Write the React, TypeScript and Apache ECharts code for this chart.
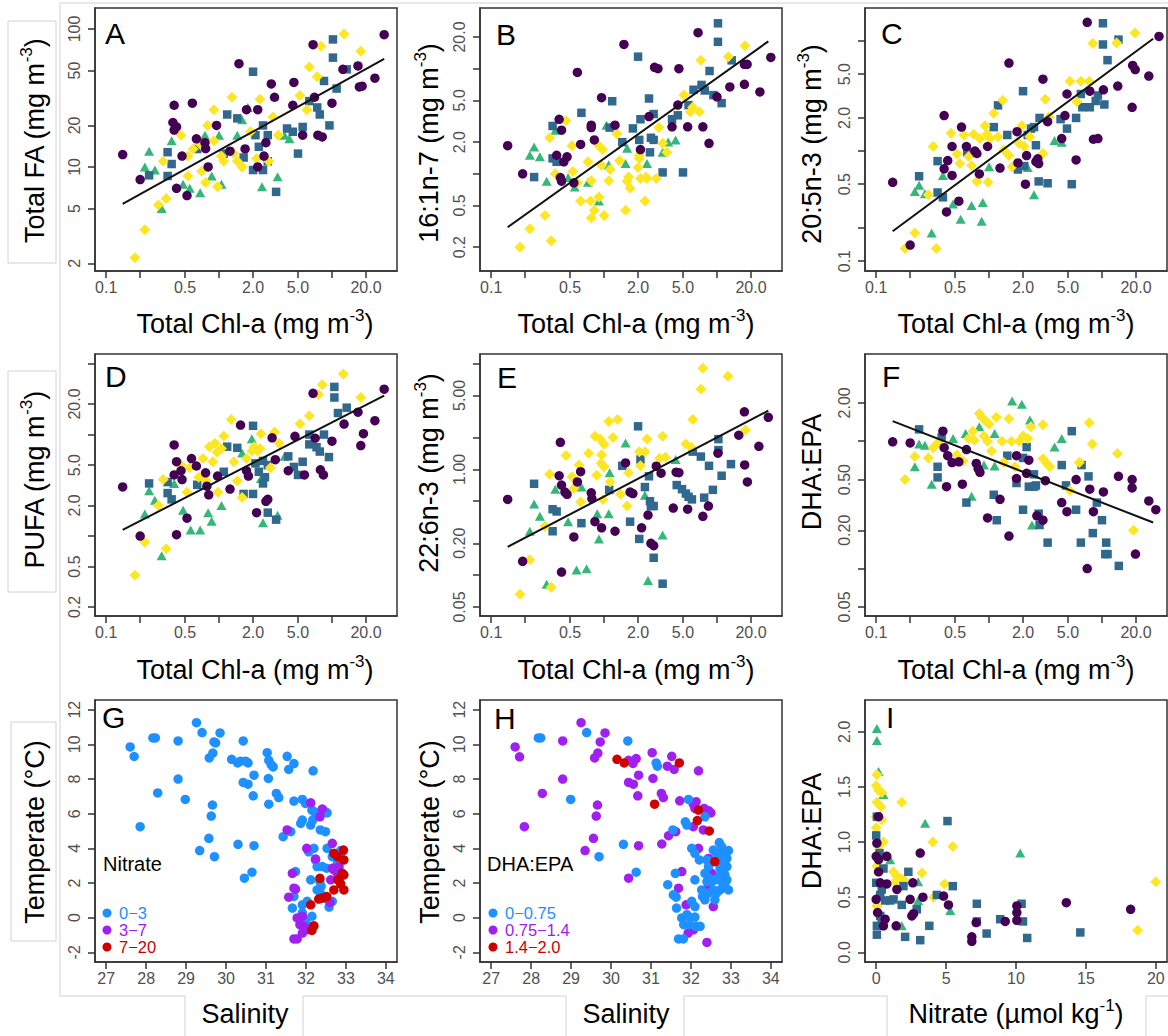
import React, { useEffect, useRef } from 'react';
import * as echarts from 'echarts';

type Pt = [number, number];

const FONT = '"Liberation Sans", Arial, Helvetica, sans-serif';

// ---------- Shared tick definitions ----------
const CHL_TICKS = [0.1, 0.2, 0.5, 1, 2, 5, 10, 20];
const CHL_LABELS = ['0.1', '0.5', '2.0', '5.0', '20.0'];

// ---------- Panel A : Total FA ----------
const A_purple: Pt[] = [[0.14,12.3],[0.2,8.1],[0.4,28],[0.39,21],[0.4,18.5],[0.42,19.5],[0.47,12],[0.42,7],[0.52,6.2],[0.58,29],[0.63,16],[0.75,15],[0.76,13.6],[0.8,10],[0.95,20],[1.25,13],[1.5,56],[1.75,26],[1.7,13.5],[2.2,26],[2.2,10],[2.6,15],[2.5,12],[2.9,40],[3.1,32],[4.6,41],[4.5,28],[5.5,17],[6.8,77],[7,32],[7.5,17],[8.2,16.5],[10,29],[12.5,51],[17,54],[17.5,38],[18.5,38.5],[24,44],[29,91]];
const A_teal: Pt[] = [[0.24,8.7],[0.35,12.8],[0.38,10.5],[0.35,8.6],[0.64,13.5],[1.18,24],[1.45,22.5],[1.1,12.5],[1.65,11.7],[2.0,49],[2.1,17],[2.25,14],[2.0,9.5],[2.45,9.5],[2.45,20],[2.7,17],[2.7,11],[3.2,6.6],[4,19],[4.5,18],[5.5,19.5],[5,12.5],[6.3,30],[7.4,27],[7.8,24],[8.5,42],[9.5,20],[10.2,84],[10.2,62],[11,37],[13.5,51]];
const A_green: Pt[] = [[0.22,10],[0.24,13],[0.27,9.5],[0.31,5],[0.38,15.5],[0.48,7.5],[0.55,7],[0.68,6.5],[0.75,17],[0.86,8.6],[1.05,7.5],[1.0,17],[1.45,17],[1.6,22],[1.8,27],[2.4,7.2],[3.3,8.5],[3.8,17],[4.2,16]];
const A_yellow: Pt[] = [[0.18,2.2],[0.22,3.5],[0.29,5.3],[0.34,5.9],[0.32,11],[0.46,17],[0.53,8.6],[0.53,12],[0.59,13.5],[0.69,14.5],[0.7,9.3],[0.76,7.7],[0.79,20],[0.9,26],[0.9,15.5],[0.97,7.2],[1.05,12],[1.1,11],[1.3,32],[1.35,12.5],[1.45,11],[1.6,10],[1.9,18],[2.3,31],[2.15,11.5],[2.75,11],[3.0,23],[3.35,17],[5.2,33],[6,26],[6.3,53],[7.4,45],[8,75],[12.8,92],[18,69]];
const A_fit: Pt[] = [[0.14,5.4],[29,60.7]];
const A_YTICKS = [2, 5, 10, 20, 50, 100];
const A_YLABELS = ['2', '5', '10', '20', '50', '100'];

// ---------- Panel B : 16:1n-7 ----------
const B_purple: Pt[] = [[0.14,1.85],[0.19,1.0],[0.4,3.3],[0.42,2.6],[0.38,1.5],[0.47,1.45],[0.44,1.3],[0.41,0.92],[0.42,0.85],[0.54,0.82],[0.58,9.2],[0.62,1.9],[0.77,2.9],[0.77,2.75],[0.82,2.1],[0.95,5.3],[1.25,2.9],[1.5,17],[2.1,1.7],[2.5,3.5],[2.8,10.3],[3.0,10],[4.0,2.8],[4.5,4.5],[4.6,10],[5.5,2.8],[6.8,22],[7.5,2.8],[8.5,1.95],[10,5.4],[13,6.7],[17.5,7.1],[18.5,11],[17.5,11],[24,6],[30,12.8]];
const B_teal: Pt[] = [[0.24,0.93],[0.35,2.85],[0.35,1.4],[0.38,1.3],[0.63,3.8],[1.12,2.75],[1.18,4.9],[1.45,2.0],[1.8,2.7],[2.0,13],[2.1,3.3],[2.05,2.1],[2.5,5.2],[2.75,3.7],[2.6,2.2],[2.75,2.1],[2.55,1.6],[3.3,1.03],[4,3.3],[4.5,3.6],[5,1.03],[5.6,4.5],[6.2,6.3],[7.3,7.0],[7.8,6.2],[8.6,9.5],[9.3,5.6],[11,4.7],[10.2,27],[10.2,18],[13.5,12]];
const B_green: Pt[] = [[0.24,1.8],[0.22,1.5],[0.27,1.45],[0.31,0.85],[0.37,2.6],[0.48,0.92],[0.55,0.75],[0.72,0.83],[0.9,0.55],[1.05,2.9],[1.1,1.22],[1.6,1.75],[1.55,1.25],[2.4,1.25],[3.3,1.6],[3.7,2.0],[4.3,2.1]];
const B_yellow: Pt[] = [[0.18,0.2],[0.22,0.3],[0.34,0.23],[0.3,0.4],[0.33,2.2],[0.46,3.2],[0.52,1.85],[0.37,1.0],[0.53,1.05],[0.58,0.82],[0.62,0.55],[0.76,0.55],[0.77,0.86],[0.72,1.3],[0.77,0.38],[0.82,0.45],[0.9,0.6],[0.9,1.85],[0.97,1.7],[0.95,1.2],[1.13,1.1],[1.1,0.86],[1.0,0.4],[1.3,2.4],[1.37,1.33],[1.55,0.45],[1.65,0.93],[1.6,0.85],[1.7,0.73],[2.05,1.5],[2.05,1.4],[2.0,1.15],[2.1,0.9],[2.35,0.93],[2.3,0.55],[2.4,0.9],[2.9,0.9],[3.05,2.75],[3.3,1.95],[3.6,1.6],[5.1,5.6],[5.8,3.9],[6.1,4.3],[7.0,3.9],[7.2,12],[12.6,13],[17.7,16.5]];
const B_fit: Pt[] = [[0.14,0.31],[28.5,18.2]];
const B_YTICKS = [0.2, 0.5, 1, 2, 5, 10, 20];
const B_YLABELS = ['0.2', '0.5', '2.0', '5.0', '20.0'];

// ---------- Panel C : 20:5n-3 ----------
const C_purple: Pt[] = [[0.14,0.52],[0.2,0.14],[0.4,2.1],[0.47,1.1],[0.4,0.69],[0.43,0.82],[0.47,0.6],[0.42,0.28],[0.54,0.35],[0.57,1.65],[0.63,1.1],[0.78,0.95],[0.75,1.0],[0.82,0.62],[0.97,1.1],[1.25,0.7],[1.5,6.3],[1.8,0.78],[1.77,1.5],[2.15,0.91],[2.1,0.5],[2.6,0.8],[2.7,0.85],[2.75,0.77],[3.0,4.5],[3.3,1.85],[4.4,1.3],[4.9,3.3],[4.7,2.1],[5.9,0.83],[7.4,14.8],[7.8,3.5],[8.4,1.28],[9.2,1.3],[10.3,3.6],[13.8,3.9],[18.7,6.0],[19.7,5.5],[18.5,2.5],[26,4.8],[32,11]];
const C_teal: Pt[] = [[0.24,0.59],[0.35,0.81],[0.35,0.42],[0.39,0.38],[0.64,0.97],[1.1,1.65],[1.2,2.6],[1.45,1.4],[1.8,0.68],[2.05,0.73],[2.0,3.5],[2.2,1.4],[2.35,1.6],[2.5,1.65],[2.6,1.13],[2.75,0.53],[3.3,0.51],[2.8,2.0],[4.3,1.95],[4.9,1.6],[5.4,0.5],[5.9,2.0],[6.5,3.3],[6.7,2.5],[7.8,2.5],[8.8,2.85],[9.2,3.2],[10.5,2.65],[10.2,14.5],[10.2,9.3],[11.2,6.7],[14,10.3]];
const C_green: Pt[] = [[0.22,0.43],[0.24,0.49],[0.27,0.41],[0.31,0.18],[0.39,0.6],[0.48,0.33],[0.56,0.24],[0.7,0.32],[0.86,0.23],[0.88,0.34],[1.0,0.72],[2.2,0.71],[2.5,0.4],[3.8,1.25],[4.4,1.2]];
const C_yellow: Pt[] = [[0.18,0.13],[0.22,0.18],[0.34,0.13],[0.29,0.4],[0.32,1.1],[0.46,1.45],[0.52,0.94],[0.55,0.77],[0.6,1.4],[0.66,0.89],[0.73,1.42],[0.7,0.74],[0.78,0.53],[0.83,1.3],[0.92,1.7],[0.96,1.42],[1.02,1.3],[0.98,0.52],[1.1,2.2],[1.2,1.35],[1.32,2.9],[1.35,1.02],[1.5,0.91],[1.6,0.72],[1.85,1.17],[1.95,1.7],[2.05,1.1],[2.3,1.35],[3.0,0.95],[3.15,2.95],[3.4,2.05],[5.2,4.3],[6.5,4.3],[7.7,4.3],[6,2.8],[8.3,9.5],[13.5,9.6],[19.6,11.8]];
const C_fit: Pt[] = [[0.14,0.187],[28.4,10.5]];
const C_YTICKS = [0.1, 0.2, 0.5, 1, 2, 5, 10];
const C_YLABELS = ['0.1', '0.5', '2.0', '5.0'];

// ---------- Panel D : PUFA ----------
const D_purple: Pt[] = [[0.14,3.05],[0.2,1.0],[0.4,7.9],[0.42,5.4],[0.4,4.0],[0.47,3.6],[0.46,4.4],[0.42,1.03],[0.52,1.5],[0.57,5.8],[0.63,4.9],[0.76,4.2],[0.78,3.1],[0.81,2.55],[0.97,3.9],[1.25,2.9],[1.55,12.4],[1.75,4.4],[1.82,3.9],[2.15,1.7],[2.6,2.2],[2.7,2.3],[2.95,9.3],[3.15,5.65],[4.1,4.4],[4.7,9.6],[5.7,4.0],[6.8,25.5],[7.1,9.2],[7.9,4.5],[8.4,4.0],[10,8.6],[12.8,12.7],[17,16.6],[18,7.8],[19,10.2],[24,13.7],[29,28]];
const D_teal: Pt[] = [[0.24,3.3],[0.35,3.4],[0.35,2.65],[0.38,2.3],[0.64,3.2],[1.18,7.6],[1.45,7.4],[1.1,4.3],[2.0,12.2],[2.1,5.2],[2.25,4.3],[1.65,2.6],[2.0,2.6],[2.45,5.5],[2.7,5.0],[2.55,3.8],[2.45,3.3],[2.7,1.7],[3.2,1.45],[4.1,6.1],[4.6,4.8],[5.0,4.0],[5.5,5.4],[6.3,10],[6.3,8],[7.3,7.5],[7.8,6.8],[8.5,10],[9.4,6.0],[10.5,29.5],[10.5,23.2],[11.3,16.3],[13.5,18.4]];
const D_green: Pt[] = [[0.22,1.65],[0.24,2.8],[0.27,2.25],[0.31,0.64],[0.4,3.3],[0.48,1.8],[0.56,1.15],[0.68,1.15],[0.8,1.7],[0.86,1.4],[1.05,2.0],[1.6,6.6],[1.95,9.1],[2.35,3.7],[2.45,1.35],[3.3,1.6],[3.8,6.1]];
const D_yellow: Pt[] = [[0.18,0.41],[0.22,0.87],[0.34,0.75],[0.32,3.6],[0.29,2.0],[0.46,5.0],[0.52,2.7],[0.55,4.7],[0.66,3.8],[0.72,5.8],[0.73,4.0],[0.77,3.5],[0.82,7.6],[0.88,5.4],[0.92,8.2],[0.96,6.7],[0.98,2.7],[1.05,7.3],[1.1,9.7],[1.28,14.1],[1.35,5.4],[1.45,3.5],[1.6,2.4],[1.75,5.8],[1.95,6.9],[2.05,7.6],[2.2,6.9],[2.3,7.3],[2.35,10.2],[2.85,4.7],[3.1,10.6],[3.4,8.2],[5.2,12.8],[6.3,15.3],[7.6,24.8],[8.2,31],[12.6,39.5],[18,23.2]];
const D_fit: Pt[] = [[0.14,1.15],[29,24.2]];
const D_YTICKS = [0.2, 0.5, 1, 2, 5, 10, 20, 50];
const D_YLABELS = ['0.2', '0.5', '2.0', '5.0', '20.0'];

// ---------- Panel E : 22:6n-3 ----------
const E_purple: Pt[] = [[0.14,0.52],[0.19,0.135],[0.42,0.107],[0.41,1.8],[0.4,0.87],[0.42,0.71],[0.45,0.61],[0.47,0.58],[0.54,0.23],[0.58,0.76],[0.62,0.95],[0.77,0.6],[0.78,0.53],[0.83,0.32],[0.95,0.28],[1.25,0.26],[1.55,1.15],[1.7,0.61],[1.8,0.59],[2.15,0.28],[2.45,0.37],[2.6,0.2],[2.75,0.19],[2.9,1.07],[3.2,0.92],[4.1,0.43],[4.35,0.94],[4.6,0.93],[5.5,0.42],[7.5,0.36],[8.4,0.45],[10.2,1.42],[15.6,2.1],[17.6,1.1],[18.6,0.76],[17.5,3.5],[23.5,1.65],[28.5,3.1]];
const E_teal: Pt[] = [[0.24,0.73],[0.35,0.42],[0.38,0.4],[0.35,0.26],[0.63,0.31],[1.11,0.64],[1.45,1.08],[2.0,2.55],[2.1,1.24],[1.7,0.32],[2.05,0.22],[2.3,0.68],[2.5,0.86],[2.55,0.5],[2.75,0.45],[2.6,0.45],[2.75,0.146],[3.3,0.083],[4.4,0.71],[4.9,0.65],[5.3,0.59],[5.6,0.55],[6.0,0.52],[6.1,1.47],[7.2,1.32],[8.5,1.08],[7.7,0.54],[9.2,0.64],[10.3,1.52],[10.3,1.93],[11,0.87],[13.3,1.12]];
const E_green: Pt[] = [[0.22,0.26],[0.24,0.47],[0.27,0.36],[0.31,0.082],[0.37,0.65],[0.48,0.32],[0.57,0.112],[0.7,0.115],[0.63,0.68],[0.87,0.38],[0.9,0.22],[1.1,0.38],[1.12,0.93],[1.55,1.77],[2.3,0.57],[2.45,0.089],[3.3,0.24],[4.3,1.24]];
const E_yellow: Pt[] = [[0.18,0.066],[0.22,0.14],[0.34,0.077],[0.3,0.29],[0.33,0.9],[0.46,1.35],[0.52,0.85],[0.54,0.66],[0.62,0.49],[0.6,1.1],[0.73,1.42],[0.83,2.05],[0.86,0.88],[0.92,1.93],[0.95,1.37],[0.94,1.14],[1.0,1.73],[1.0,1.06],[1.1,2.83],[1.2,2.0],[1.32,2.95],[1.13,0.76],[0.98,0.52],[1.4,0.58],[1.65,0.93],[1.6,0.45],[2.05,1.47],[2.3,1.47],[2.4,1.93],[2.1,1.08],[3.3,2.05],[3.1,1.27],[3.5,1.3],[5.3,1.74],[5.9,1.62],[6.1,2.95],[7.2,5.75],[7.5,9.0],[12.5,7.6],[17.9,2.36]];
const E_fit: Pt[] = [[0.14,0.185],[28.5,3.58]];
const E_YTICKS = [0.05, 0.1, 0.2, 0.5, 1, 2, 5, 10];
const E_YLABELS = ['0.05', '0.20', '1.00', '5.00'];

// ---------- Panel F : DHA:EPA vs Chl-a ----------
const F_purple: Pt[] = [[0.14,0.99],[0.2,0.97],[0.39,1.2],[0.4,0.89],[0.43,0.77],[0.47,0.68],[0.54,0.69],[0.42,0.44],[0.58,0.46],[0.63,0.86],[0.77,0.67],[0.8,0.61],[0.83,0.57],[0.97,0.25],[1.25,0.35],[1.5,0.18],[1.75,0.77],[1.75,0.51],[2.15,0.56],[2.25,0.71],[2.65,0.26],[3.0,0.24],[3.15,0.49],[4.4,0.33],[4.9,0.28],[5.9,0.5],[7.4,0.1],[7.8,0.42],[8.4,0.28],[10.3,0.4],[14,0.53],[18.5,0.5],[18.5,0.43],[19.8,0.13],[26,0.34],[30,0.29]];
const F_teal: Pt[] = [[0.24,1.24],[0.38,1.07],[0.35,0.63],[0.35,0.52],[0.63,0.33],[1.1,0.38],[1.17,0.24],[1.45,0.77],[1.75,0.47],[2.0,0.74],[2.15,0.9],[2.0,0.29],[2.25,0.44],[2.5,0.55],[2.5,0.44],[2.6,0.45],[2.75,0.27],[2.8,0.22],[3.3,0.16],[4.4,0.65],[4.8,0.45],[5.4,1.2],[5.9,0.29],[6.5,0.16],[6.6,0.65],[7.6,0.53],[8.3,0.19],[9.0,0.33],[10,0.24],[10.9,0.16],[10.7,0.13],[11.2,0.13],[14.1,0.105]];
const F_green: Pt[] = [[0.22,0.63],[0.24,0.95],[0.27,0.93],[0.31,0.46],[0.48,1.05],[0.62,1.15],[0.7,0.37],[0.82,1.3],[0.9,0.65],[1.12,1.15],[1.12,0.64],[1.6,2.07],[1.95,1.95],[2.3,1.47],[2.4,0.22],[3.8,0.9],[4.4,1.05]];
const F_yellow: Pt[] = [[0.18,0.5],[0.22,0.76],[0.29,0.74],[0.32,0.89],[0.35,0.97],[0.52,0.78],[0.59,0.7],[0.66,1.05],[0.72,1.2],[0.74,1.02],[0.82,1.65],[0.86,1.54],[0.93,1.44],[1.0,1.36],[0.9,1.1],[0.97,1.0],[1.05,0.84],[1.16,1.54],[1.3,1.0],[1.35,0.68],[1.5,1.5],[1.58,1.0],[1.7,0.63],[1.85,1.0],[2.0,1.1],[2.2,1.05],[2.35,1.3],[3.0,0.73],[3.25,0.67],[3.45,0.63],[3.0,1.35],[5.2,0.41],[6.3,0.68],[7.7,1.4],[8.2,0.95],[13.7,0.8],[19,0.2]];
const F_fit: Pt[] = [[0.14,1.44],[28.4,0.23]];
const F_YTICKS = [0.05, 0.1, 0.2, 0.5, 1, 2];
const F_YLABELS = ['0.05', '0.20', '0.50', '2.00'];

// ---------- Panel G : T-S coloured by nitrate ----------
const G_low: Pt[] = [[27.6,9.85],[27.7,9.3],[27.85,5.25],[28.17,10.37],[28.23,10.37],[28.29,7.2],[28.8,10.2],[28.8,8.0],[28.98,6.82],[29.26,11.25],[29.4,10.68],[29.34,3.87],[29.57,4.58],[29.58,9.22],[29.67,9.5],[29.7,10.14],[29.74,10.08],[29.85,10.66],[29.63,5.86],[29.66,6.5],[29.71,3.52],[30.14,9.14],[30.29,8.93],[30.36,9.03],[30.49,9.03],[30.55,8.93],[30.43,10.2],[30.43,7.8],[30.55,7.7],[30.7,8.22],[30.68,7.03],[30.3,4.23],[30.7,4.15],[30.46,2.28],[30.65,2.62],[31.03,9.52],[31.07,9.08],[31.13,8.83],[31.18,8.7],[31.06,8.03],[31.07,6.55],[31.26,7.17],[31.32,6.93],[31.53,9.31],[31.57,8.55],[31.7,8.89],[31.7,6.73],[32.18,8.47],[31.43,4.67],[31.62,4.96],[31.91,6.82],[31.99,6.59],[32.15,6.21],[32.21,6.11],[32.49,6.11],[32.53,6.05],[31.87,5.44],[31.91,5.63],[32.12,5.34],[32.17,5.63],[32.36,5.06],[32.49,4.96],[32.2,4.0],[32.07,3.8],[32.24,3.33],[32.28,2.95],[32.41,2.95],[32.52,2.85],[32.53,4.0],[32.66,3.52],[32.79,3.14],[32.87,3.87],[32.91,3.81],[31.74,2.66],[32.12,2.18],[32.35,2.08],[32.28,1.6],[32.38,1.8],[31.7,1.22],[31.66,0.55],[31.91,0.74],[32.03,0.94],[32.15,0.08],[32.36,1.41],[32.49,1.13],[32.66,0.94],[32.58,0.61],[31.91,0.27],[31.99,-0.21],[32.12,-0.5]];
const G_mid: Pt[] = [[31.53,5.06],[32.12,6.63],[32.41,6.27],[32.35,5.82],[32.02,4.0],[32.24,3.39],[32.66,4.29],[31.66,2.56],[31.7,1.7],[31.74,1.64],[31.57,1.18],[32.62,2.18],[32.7,2.76],[32.79,2.56],[32.83,2.95],[32.87,2.37],[32.66,2.85],[32.6,0.88],[31.78,-0.02],[31.91,0.08],[31.85,-0.41],[31.95,-0.5],[31.91,-0.89],[32.02,-0.7],[31.7,-1.23],[31.78,-1.23],[31.99,-0.6]];
const G_high: Pt[] = [[32.7,3.71],[32.79,3.52],[32.94,3.9],[32.95,3.33],[32.91,2.56],[32.95,2.47],[32.8,2.18],[32.87,1.95],[32.95,1.6],[32.7,1.6],[32.35,2.27],[32.32,1.07],[32.41,1.13],[32.52,1.22],[32.12,0.74],[32.2,-0.47],[32.15,-0.74]];

// ---------- Panel H : T-S coloured by DHA:EPA ----------
const H_mid: Pt[] = [[27.6,9.85],[27.71,9.28],[27.83,5.25],[28.28,7.17],[28.79,10.2],[28.79,8.0],[29.25,11.25],[29.35,3.87],[29.56,4.58],[29.59,9.22],[29.67,9.5],[29.73,10.14],[29.85,10.66],[29.63,5.86],[29.66,6.5],[30.44,2.28],[30.44,7.8],[30.56,7.7],[30.69,8.22],[30.67,7.03],[30.69,4.15],[30.44,9.08],[30.55,8.9],[30.63,9.18],[31.03,9.52],[31.05,8.03],[31.26,7.17],[31.31,6.93],[31.27,4.25],[31.44,4.73],[31.41,8.74],[31.52,9.31],[31.58,8.55],[31.72,6.74],[31.62,4.96],[32.19,8.47],[32.06,6.55],[32.13,6.69],[32.1,6.3],[32.06,5.25],[32.33,6.3],[32.44,6.17],[32.5,6.05],[32.31,5.06],[32.19,4.0],[31.77,2.66],[31.69,1.7],[31.88,0.74],[31.93,-0.89],[32.06,-0.7],[32.4,-1.43],[32.56,0.64],[32.44,1.8],[32.52,2.56],[32.44,3.42]];
const H_low: Pt[] = [[28.18,10.37],[28.24,10.37],[28.99,6.82],[29.39,10.68],[29.7,3.52],[30.31,4.23],[30.42,10.2],[30.63,2.62],[31.13,8.93],[31.16,8.74],[31.55,5.06],[31.42,1.9],[31.61,2.56],[31.56,1.32],[31.63,1.18],[31.64,0.55],[31.94,6.82],[31.86,5.53],[31.9,5.34],[32.35,5.82],[32.02,4.0],[32.1,3.71],[32.21,3.33],[32.1,2.18],[32.27,1.6],[32.29,1.22],[32.02,0.94],[32.1,0.64],[31.77,-0.02],[31.9,0.17],[31.98,-0.02],[32.1,0.03],[31.82,-0.41],[31.96,-0.41],[32.13,-0.5],[32.23,-0.5],[31.69,-1.23],[31.81,-1.23],[32.4,3.33],[32.44,2.95],[32.35,2.56],[32.46,2.27],[32.52,2.08],[32.4,2.08],[32.6,2.18],[32.56,1.6],[32.44,1.41],[32.35,1.03],[32.6,1.03],[32.64,1.41],[32.56,3.9],[32.64,3.71],[32.71,4.33],[32.77,4.1],[32.81,3.71],[32.94,3.87],[32.9,3.42],[32.81,3.14],[32.9,2.95],[32.73,2.85],[32.73,2.47],[32.85,2.47],[32.9,2.18],[32.77,2.08],[32.85,1.99],[32.94,1.6],[32.73,1.6],[32.64,3.33],[32.81,3.42]];
const H_high: Pt[] = [[30.15,9.14],[30.33,8.93],[31.71,8.93],[31.09,6.55],[32.19,6.21],[32.16,5.6],[32.46,5.0],[32.6,3.23]];

// ---------- Panel I : DHA:EPA vs nitrate ----------
const I_green: Pt[] = [[0.05,2.03],[0.05,1.92],[0.17,1.64],[0.52,1.43],[1.0,0.84],[3.5,1.17],[10.3,0.9],[3.0,0.64],[5.3,0.38],[1.83,0.24],[3.0,0.47]];
const I_yellow: Pt[] = [[0.05,1.61],[0.0,1.51],[0.17,1.47],[0.4,1.45],[0.05,1.36],[0.33,1.32],[0.0,1.23],[0.4,1.2],[0.0,1.13],[0.05,1.0],[0.52,1.0],[0.17,0.96],[0.4,0.87],[0.64,0.87],[0.05,0.78],[1.83,1.36],[4.05,1.0],[5.48,0.96],[1.24,0.73],[1.48,0.69],[1.72,0.67],[1.36,0.64],[1.95,0.66],[3.27,0.72],[4.89,0.62],[4.1,0.5],[20,0.64],[18.7,0.2],[0.05,0.42]];
const I_teal: Pt[] = [[0.05,1.23],[0.0,1.06],[0.24,0.9],[0.52,0.76],[0.0,0.63],[0.4,0.57],[0.64,0.47],[0.29,0.52],[1.0,0.47],[2.3,0.73],[1.95,0.6],[1.83,0.43],[1.24,0.48],[0.29,0.33],[0.05,0.24],[0.05,0.16],[0.4,0.27],[2.9,0.39],[3.8,0.24],[3.15,0.11],[2.07,0.14],[4.34,0.52],[5.48,0.6],[5.1,1.19],[7.2,0.44],[7.2,0.28],[7.9,0.17],[8.87,0.3],[10.4,0.44],[10.5,0.28],[10.8,0.13],[14.6,0.18]];
const I_purple: Pt[] = [[0.05,0.99],[0.17,1.23],[0.0,0.87],[0.17,0.84],[0.76,0.87],[0.17,0.73],[0.29,0.63],[0.76,0.62],[0.0,0.48],[0.1,0.36],[0.52,0.24],[0.64,0.3],[1.48,0.57],[1.43,0.24],[3.15,0.9],[2.62,0.63],[2.43,0.48],[2.55,0.33],[2.67,0.35],[3.34,0.5],[4.82,0.51],[5.17,0.43],[7.15,0.27],[6.84,0.14],[6.84,0.1],[9.23,0.28],[10.06,0.42],[10.06,0.36],[10.06,0.29],[13.6,0.45],[18.2,0.39]];

const TS_XTICKS = [27, 28, 29, 30, 31, 32, 33, 34];
const TS_YTICKS = [-2, 0, 2, 4, 6, 8, 10, 12];
const I_XTICKS = [0, 5, 10, 15, 20];
const I_YTICKS = [0, 0.5, 1, 1.5, 2];
const I_YLABELS = ['0.0', '0.5', '1.0', '1.5', '2.0'];

const NITRATE_CLASSES = ['0\u22123', '3\u22127', '7\u221220'];
const RATIO_CLASSES = ['0\u22120.75', '0.75\u22121.4', '1.4\u22122.0'];

// ---------- styling ----------
const C_PURPLE = '#440154';
const C_TEAL = '#31688e';
const C_GREEN = '#35b779';
const C_YELLOW = '#fde725';
const TS_BLUE = '#1e90ff';
const TS_PURPLE = '#a020f0';
const TS_RED = '#cd0000';

const LEFTS = [95, 480, 865];
const TOPS = [8, 354, 700];
const HEIGHTS = [263, 262, 262];
const GW = 302;

const LOGX: [number, number] = [-1.099, 1.576];

const lg = (arr: Pt[]) => arr.map(([x, y]) => [Math.log10(x), Math.log10(y)]);
const lgv = (arr: number[]) => arr.map((v) => Math.log10(v));

function nearestFmt(vals: number[], labels: string[]) {
  return (v: number) => {
    let best = 0;
    let bd = Infinity;
    vals.forEach((t, i) => {
      const d = Math.abs(t - v);
      if (d < bd) { bd = d; best = i; }
    });
    return labels[best];
  };
}

function makeAxis(gridIndex: number, min: number, max: number, tickVals: number[], labelVals: number[], labels: string[], isY: boolean) {
  return {
    gridIndex,
    type: 'value',
    min,
    max,
    scale: true,
    axisLine: { show: true, onZero: false, lineStyle: { color: '#333', width: 1.5 } },
    axisTick: { show: true, inside: false, length: 7, lineStyle: { color: '#333', width: 1.5 }, customValues: tickVals },
    axisLabel: {
      show: true,
      customValues: labelVals,
      formatter: nearestFmt(labelVals, labels),
      color: '#505050',
      fontSize: 16,
      fontFamily: FONT,
      margin: isY ? 13 : 8,
      rotate: isY ? 90 : 0,
    },
    splitLine: { show: false },
  };
}

function scatter(i: number, data: any[], symbol: string, size: any, color: string) {
  return {
    type: 'scatter',
    xAxisIndex: i,
    yAxisIndex: i,
    data,
    symbol,
    symbolSize: size,
    itemStyle: { color, opacity: 1 },
    silent: true,
    z: 2,
  };
}

function fitLine(i: number, data: any[]) {
  return {
    type: 'line',
    xAxisIndex: i,
    yAxisIndex: i,
    data,
    symbol: 'none',
    lineStyle: { color: '#111', width: 2 },
    silent: true,
    z: 3,
  };
}

function richText(x: number, y: number, main: string, sup: string, tail: string, rotate: boolean) {
  const text = sup ? `{a|${main}}{s|${sup}}{a|${tail}}` : `{a|${main}}`;
  return {
    type: 'text',
    x,
    y,
    rotation: rotate ? Math.PI / 2 : 0,
    z: 20,
    style: {
      text,
      align: 'center',
      verticalAlign: 'middle',
      fill: '#000',
      fontFamily: FONT,
      fontSize: 27,
      rich: {
        a: { fontSize: 27, fontFamily: FONT, fill: '#000', verticalAlign: 'bottom', lineHeight: 30 },
        s: { fontSize: 17, fontFamily: FONT, fill: '#000', verticalAlign: 'top', lineHeight: 17 },
      },
    },
  };
}

function plainText(x: number, y: number, text: string, size: number, color: string) {
  return {
    type: 'text',
    x,
    y,
    z: 20,
    style: { text, fill: color, fontSize: size, fontFamily: FONT, align: 'left', verticalAlign: 'middle' },
  };
}

function hline(x1: number, x2: number, y: number) {
  return { type: 'line', z: 0, shape: { x1, y1: y, x2, y2: y }, style: { stroke: '#d2d2d2', lineWidth: 1 } };
}
function vline(x: number, y1: number, y2: number) {
  return { type: 'line', z: 0, shape: { x1: x, y1, x2: x, y2 }, style: { stroke: '#d2d2d2', lineWidth: 1 } };
}
function frame(x: number, y: number, w: number, h: number) {
  return { type: 'rect', z: 0, shape: { x, y, width: w, height: h }, style: { fill: 'none', stroke: '#d2d2d2', lineWidth: 1 } };
}

function buildOption() {
  const grids: any[] = [];
  for (let i = 0; i < 9; i++) {
    const r = Math.floor(i / 3);
    const c = i % 3;
    grids.push({
      left: LEFTS[c],
      top: TOPS[r],
      width: GW,
      height: HEIGHTS[r],
      show: true,
      borderColor: '#333',
      borderWidth: 1.5,
      backgroundColor: 'transparent',
      containLabel: false,
      outerBoundsMode: 'none',
    });
  }

  const chlX = (i: number) =>
    makeAxis(i, LOGX[0], LOGX[1], lgv(CHL_TICKS), lgv(CHL_LABELS.map(Number)), CHL_LABELS, false);

  const logY = (i: number, range: [number, number], ticks: number[], labels: string[]) =>
    makeAxis(i, range[0], range[1], lgv(ticks), lgv(labels.map(Number)), labels, true);

  const xAxis: any[] = [
    chlX(0), chlX(1), chlX(2), chlX(3), chlX(4), chlX(5),
    makeAxis(6, 26.72, 34.28, TS_XTICKS, TS_XTICKS, TS_XTICKS.map(String), false),
    makeAxis(7, 26.72, 34.28, TS_XTICKS, TS_XTICKS, TS_XTICKS.map(String), false),
    makeAxis(8, -0.8, 20.8, I_XTICKS, I_XTICKS, I_XTICKS.map(String), false),
  ];
  const yAxis: any[] = [
    logY(0, [0.246, 2.152], A_YTICKS, A_YLABELS),
    logY(1, [-0.925, 1.577], B_YTICKS, B_YLABELS),
    logY(2, [-1.09, 1.3], C_YTICKS, C_YLABELS),
    logY(3, [-0.788, 1.794], D_YTICKS, D_YLABELS),
    logY(4, [-1.386, 1.09], E_YTICKS, E_YLABELS),
    logY(5, [-1.372, 0.685], F_YTICKS, F_YLABELS),
    makeAxis(6, -2.56, 12.56, TS_YTICKS, TS_YTICKS, TS_YTICKS.map(String), true),
    makeAxis(7, -2.56, 12.56, TS_YTICKS, TS_YTICKS, TS_YTICKS.map(String), true),
    makeAxis(8, -0.088, 2.288, I_YTICKS, I_YTICKS, I_YLABELS, true),
  ];

  const CIRC = 9.5;
  const SQ = 8.5;
  const TRI = [10, 9];
  const DIA = [11, 11];

  const chlPanels: [Pt[], Pt[], Pt[], Pt[], Pt[]][] = [
    [A_green, A_teal, A_yellow, A_purple, A_fit],
    [B_green, B_teal, B_yellow, B_purple, B_fit],
    [C_green, C_teal, C_yellow, C_purple, C_fit],
    [D_green, D_teal, D_yellow, D_purple, D_fit],
    [E_green, E_teal, E_yellow, E_purple, E_fit],
    [F_green, F_teal, F_yellow, F_purple, F_fit],
  ];

  const series: any[] = [];
  chlPanels.forEach(([g, t, y, p, fit], i) => {
    series.push(scatter(i, lg(g), 'triangle', TRI, C_GREEN));
    series.push(scatter(i, lg(t), 'rect', SQ, C_TEAL));
    series.push(scatter(i, lg(y), 'diamond', DIA, C_YELLOW));
    series.push(scatter(i, lg(p), 'circle', CIRC, C_PURPLE));
    series.push(fitLine(i, lg(fit)));
  });

  const TS = 9.5;
  series.push(scatter(6, G_low, 'circle', TS, TS_BLUE));
  series.push(scatter(6, G_mid, 'circle', TS, TS_PURPLE));
  series.push(scatter(6, G_high, 'circle', TS, TS_RED));

  series.push(scatter(7, H_mid, 'circle', TS, TS_PURPLE));
  series.push(scatter(7, H_low, 'circle', TS, TS_BLUE));
  series.push(scatter(7, H_high, 'circle', TS, TS_RED));

  series.push(scatter(8, I_green, 'triangle', TRI, C_GREEN));
  series.push(scatter(8, I_yellow, 'diamond', DIA, C_YELLOW));
  series.push(scatter(8, I_teal, 'rect', SQ, C_TEAL));
  series.push(scatter(8, I_purple, 'circle', CIRC, C_PURPLE));

  const chl = 'Total Chl-a (mg m';
  const unit = ' (mg m';
  const graphic: any[] = [
    // layout frames
    hline(60, 1168, 3),
    vline(60, 3, 996),
    hline(60, 185, 996),
    hline(303, 566, 996),
    hline(684, 887, 996),
    hline(1146, 1168, 996),
    vline(185, 996, 1036),
    vline(303, 996, 1036),
    vline(566, 996, 1036),
    vline(684, 996, 1036),
    vline(887, 996, 1036),
    vline(1146, 996, 1036),
    frame(8, 21, 48, 242),
    frame(8, 371, 48, 221),
    frame(11, 722, 45, 219),

    // x titles
    richText(255, 322, chl, '-3', ')', false),
    richText(636, 322, chl, '-3', ')', false),
    richText(1016, 322, chl, '-3', ')', false),
    richText(255, 668, chl, '-3', ')', false),
    richText(636, 668, chl, '-3', ')', false),
    richText(1016, 668, chl, '-3', ')', false),
    richText(245, 1012, 'Salinity', '', '', false),
    richText(626, 1012, 'Salinity', '', '', false),
    richText(1016, 1012, 'Nitrate (\u00B5mol kg', '-1', ')', false),

    // y titles
    richText(33, 141, 'Total FA' + unit, '-3', ')', true),
    richText(427, 143, '16:1n-7' + unit, '-3', ')', true),
    richText(810, 144, '20:5n-3' + unit, '-3', ')', true),
    richText(33, 480, 'PUFA' + unit, '-3', ')', true),
    richText(427, 473, '22:6n-3' + unit, '-3', ')', true),
    richText(810, 472, 'DHA:EPA', '', '', true),
    richText(33, 832, 'Temperate (\u00B0C)', '', '', true),
    richText(428, 832, 'Temperate (\u00B0C)', '', '', true),
    richText(810, 831, 'DHA:EPA', '', '', true),

    // panel letters
    plainText(105, 33, 'A', 30, '#000'),
    plainText(496, 34, 'B', 30, '#000'),
    plainText(881, 33, 'C', 30, '#000'),
    plainText(105, 376, 'D', 30, '#000'),
    plainText(497, 377, 'E', 30, '#000'),
    plainText(882, 376, 'F', 30, '#000'),
    plainText(102, 717, 'G', 30, '#000'),
    plainText(494, 718, 'H', 30, '#000'),
    plainText(886, 717, 'I', 30, '#000'),

    // legend titles
    plainText(103, 864, 'Nitrate', 20, '#000'),
    plainText(487, 864, 'DHA:EPA', 20, '#000'),
  ];

  const legColors = [TS_BLUE, TS_PURPLE, TS_RED];
  const legY = [913, 930, 947];
  legY.forEach((y, k) => {
    graphic.push({ type: 'circle', z: 20, shape: { cx: 107, cy: y, r: 4.5 }, style: { fill: legColors[k] } });
    graphic.push(plainText(119, y, NITRATE_CLASSES[k], 16.5, legColors[k]));
    graphic.push({ type: 'circle', z: 20, shape: { cx: 493, cy: y, r: 4.5 }, style: { fill: legColors[k] } });
    graphic.push(plainText(505, y, RATIO_CLASSES[k], 16.5, legColors[k]));
  });

  return {
    animation: false,
    backgroundColor: '#ffffff',
    grid: grids,
    xAxis,
    yAxis,
    series,
    graphic,
  };
}

export default function App() {
  const ref = useRef<HTMLDivElement>(null);
  useEffect(() => {
    if (!ref.current) return;
    const chart = echarts.init(ref.current, null, { renderer: 'svg' });
    chart.setOption(buildOption() as any);
    return () => chart.dispose();
  }, []);
  return (
    <div
      ref={ref}
      style={{ position: 'absolute', left: 0, top: 0, width: 1168, height: 1036, background: '#fff' }}
    />
  );
}
